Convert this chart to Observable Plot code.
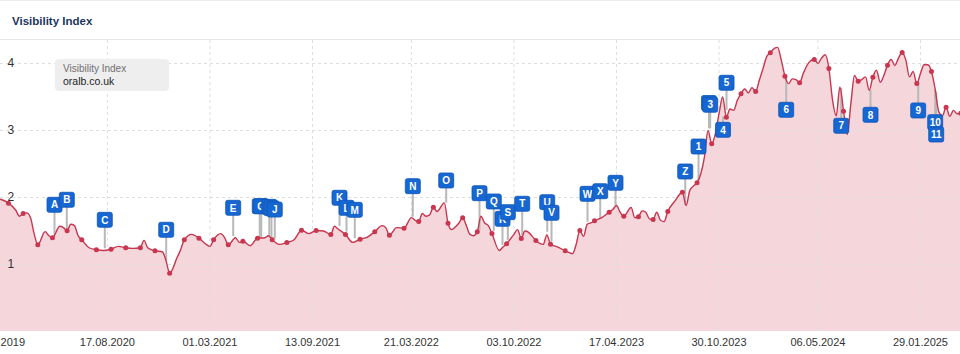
<!DOCTYPE html>
<html><head><meta charset="utf-8">
<script src="https://cdn.jsdelivr.net/npm/d3@7"></script>
<script src="https://cdn.jsdelivr.net/npm/@observablehq/plot@0.6"></script>
<style>
body{margin:0;background:#fff;font-family:"Liberation Sans",Arial,sans-serif;}
#wrap{position:relative;width:960px;height:354px;overflow:hidden;background:#fff;}
#head{position:absolute;left:0;top:0;width:960px;height:40px;box-sizing:border-box;border-top:1px solid #ececec;border-bottom:1px solid #e6e6e6;}
#title{position:absolute;left:12px;top:12px;font-weight:bold;font-size:11.5px;color:#1b3560;line-height:16px;}
#chart{position:absolute;left:0;top:40px;}
#legend{position:absolute;left:55px;top:59px;width:114px;height:32px;background:#eeeeee;border-radius:4px;box-sizing:border-box;padding:4px 0 0 8px;}
#legend .l1{font-size:10px;color:#707070;line-height:12px;}
#legend .l2{font-size:10.5px;color:#1e1e1e;line-height:13px;}
</style></head>
<body>
<div id="wrap">
  <div id="head"><div id="title">Visibility Index</div></div>
  <div id="chart"></div>
  <div id="legend"><div class="l1">Visibility Index</div><div class="l2">oralb.co.uk</div></div>
</div>
<script>
// x unit: weeks (index of weekly data points); red dots every 4 weeks
const lineWeeks = [-3,-2,0,2,3,4,5,6,7,8,10,11,12,14,15,16,17,18,19,20,22,24,26,28,30,32,34,36,37,38,40,42,43,44,46,47,48,50,52,54,55,56,58,59,60,62,63,64,66,68,70,71,72,74,76,78,80,82,84,86,88,89,90,92,94,96,98,100,102,103,104,106,108,110,111,112,113,114,115,116,117,119,120,121,122,123,124,125,126,127,128,129,130,131,132,134,135,136,138,139,140,141,142,143,144,146,147,148,150,152,153,154,155,156,157,158,159,160,162,164,165,166,167,168,170,171,172,173,174,175,176,177,178,179,180,182,184,185,186,187,188,189,190,191,192,193,194,195,196,197,198,199,200,201,202,203,204,205,206,207,208,209,210,211,212,213,214,215,216,217,218,219,220,221,222,223,224,225,226,227,228,229,230,231,232,233,234,235,236,237,238,239,240,241,242,243,244,245,246,247,248,249,250,251,252,253,254,255,256,257,258,259,260];
const lineValues = [1.98,1.97,1.915,1.81,1.72,1.761,1.77,1.70,1.46,1.294,1.49,1.43,1.399,1.57,1.55,1.503,1.60,1.58,1.43,1.369,1.25,1.220,1.21,1.228,1.27,1.249,1.24,1.249,1.36,1.25,1.204,1.19,1.06,0.870,1.10,1.22,1.369,1.45,1.393,1.30,1.27,1.369,1.46,1.40,1.294,1.40,1.33,1.348,1.28,1.393,1.40,1.43,1.369,1.30,1.328,1.37,1.512,1.46,1.507,1.50,1.448,1.57,1.53,1.448,1.33,1.378,1.41,1.488,1.58,1.55,1.437,1.55,1.542,1.70,1.66,1.642,1.76,1.72,1.74,1.855,1.79,1.92,1.616,1.52,1.56,1.62,1.697,1.58,1.45,1.43,1.488,1.72,1.62,1.58,1.463,1.21,1.26,1.309,1.45,1.52,1.388,1.50,1.48,1.42,1.358,1.30,1.44,1.303,1.26,1.204,1.18,1.16,1.30,1.507,1.42,1.60,1.62,1.652,1.70,1.781,1.82,1.88,1.78,1.721,1.85,1.70,1.712,1.80,1.78,1.68,1.672,1.78,1.66,1.64,1.791,1.95,2.079,1.88,2.10,2.17,2.219,2.35,2.60,3.00,2.801,2.95,3.25,3.50,3.199,3.32,3.30,3.45,3.548,3.62,3.56,3.64,3.582,3.75,3.92,4.10,4.160,4.22,4.24,4.05,3.810,3.70,3.77,3.76,3.712,3.85,3.97,4.04,4.060,4.00,4.08,4.13,3.925,3.45,3.22,3.65,3.288,2.94,3.40,3.82,3.736,3.76,3.80,3.60,3.796,3.90,3.72,3.82,3.975,4.06,3.97,4.08,4.164,4.05,3.80,3.88,3.701,3.85,3.98,3.98,3.881,3.62,3.28,3.22,3.348,3.21,3.30,3.25,3.258];

const yTicks = [1, 2, 3, 4];
const xTickWeeks = [-3, 27, 55, 83, 110, 138, 166, 194, 221, 249];
const xTickLabels = ["19.08.2019","17.08.2020","01.03.2021","13.09.2021","21.03.2022","03.10.2022","17.04.2023","30.10.2023","06.05.2024","29.01.2025"];

// event markers: label, week, value at box centre, value where the stem meets the line
const markerLabels = ["A","B","C","D","E","F","G","H","I","J","K","L","M","N","O","P","Q","R","S","T","U","V","W","X","Y","Z","1","2","3","4","5","6","7","8","9","10","11"];
const markerWeeks  = [12.56,15.92,26.29,43.06,61.35,68.6,69.0,71.2,71.8,72.7,90.38,92.29,94.55,110.39,119.51,128.6,132.5,134.88,136.33,140.26,147.09,148.26,158.09,161.56,165.73,184.77,188.40,191.26,191.59,195.09,196.05,212.34,227.36,235.36,248.38,253.02,253.30];
const markerBoxValues  = [1.891,1.966,1.667,1.518,1.846,1.87,1.87,1.86,1.84,1.82,1.996,1.846,1.816,2.169,2.254,2.064,1.940,1.682,1.781,1.906,1.930,1.772,2.055,2.094,2.219,2.388,2.761,3.41,3.384,3.01,3.712,3.309,3.07,3.234,3.299,3.124,2.940];
const markerLineValues = [1.433,1.518,1.234,1.060,1.418,1.39,1.39,1.40,1.39,1.38,1.567,1.482,1.384,1.706,1.915,1.507,1.493,1.284,1.358,1.433,1.482,1.333,1.631,1.682,1.870,1.881,2.254,3.025,3.025,3.199,3.30,3.796,3.627,3.597,3.697,3.597,3.567];

const series = lineWeeks.map((w, i) => ({w, v: lineValues[i]}));
const dots = series.filter(d => d.w >= 0 && d.w % 4 === 0);
const xTicks = xTickWeeks.map((w, i) => ({w, label: xTickLabels[i]}));
const markers = markerLabels.map((label, i) => ({label, w: markerWeeks[i], box: markerBoxValues[i], line: markerLineValues[i]}));

const LINE = "#c8364f";
const AREA = "#f5d6db";
const BLUE = "#1767d3";
const GRID = "#dedede";

const roundedSquare = {
  draw(ctx) {
    const s = 7.5, r = 2;
    ctx.moveTo(-s + r, -s);
    ctx.lineTo(s - r, -s);
    ctx.arcTo(s, -s, s, -s + r, r);
    ctx.lineTo(s, s - r);
    ctx.arcTo(s, s, s - r, s, r);
    ctx.lineTo(-s + r, s);
    ctx.arcTo(-s, s, -s, s - r, r);
    ctx.lineTo(-s, -s + r);
    ctx.arcTo(-s, -s, -s + r, -s, r);
    ctx.closePath();
  }
};

const markerMarks = markers.flatMap(m => [
  Plot.dot([m], {x: "w", y: "box", symbol: roundedSquare, r: 8, fill: BLUE, stroke: "#0e55b6", strokeWidth: 0.8}),
  Plot.text([m], {x: "w", y: "box", text: "label", fill: "white", fontWeight: "bold", fontSize: 10, dy: 0.5})
]);

const chart = Plot.plot({
  width: 960,
  height: 314,
  marginTop: 0, marginBottom: 23, marginLeft: 0, marginRight: 0,
  x: {domain: [-2.184, 259.93], axis: null},
  y: {domain: [0, 4.343], axis: null},
  style: {fontFamily: "'Liberation Sans', Arial, sans-serif", overflow: "hidden", background: "transparent"},
  marks: [
    Plot.areaY(series, {x: "w", y: "v", fill: AREA, curve: "monotone-x"}),
    Plot.ruleY(yTicks, {stroke: GRID, strokeDasharray: "3,3"}),
    Plot.ruleX(xTickWeeks.slice(1), {stroke: GRID, strokeDasharray: "3,3"}),
    Plot.text(yTicks, {y: d => d, frameAnchor: "left", dx: 7, textAnchor: "start", text: d => String(d), fill: "#333", fontSize: 12}),
    Plot.text(xTicks, {x: "w", frameAnchor: "bottom", dy: 14, text: "label", fill: "#333", fontSize: 11}),
    Plot.ruleX(markers, {x: "w", y1: "line", y2: "box", stroke: "#b8b8b8", strokeWidth: 2}),
    Plot.line(series, {x: "w", y: "v", stroke: LINE, strokeWidth: 1.4, curve: "monotone-x"}),
    Plot.dot(dots, {x: "w", y: "v", r: 2.5, fill: LINE}),
    ...markerMarks
  ]
});
document.getElementById("chart").appendChild(chart);
</script>
</body></html>
